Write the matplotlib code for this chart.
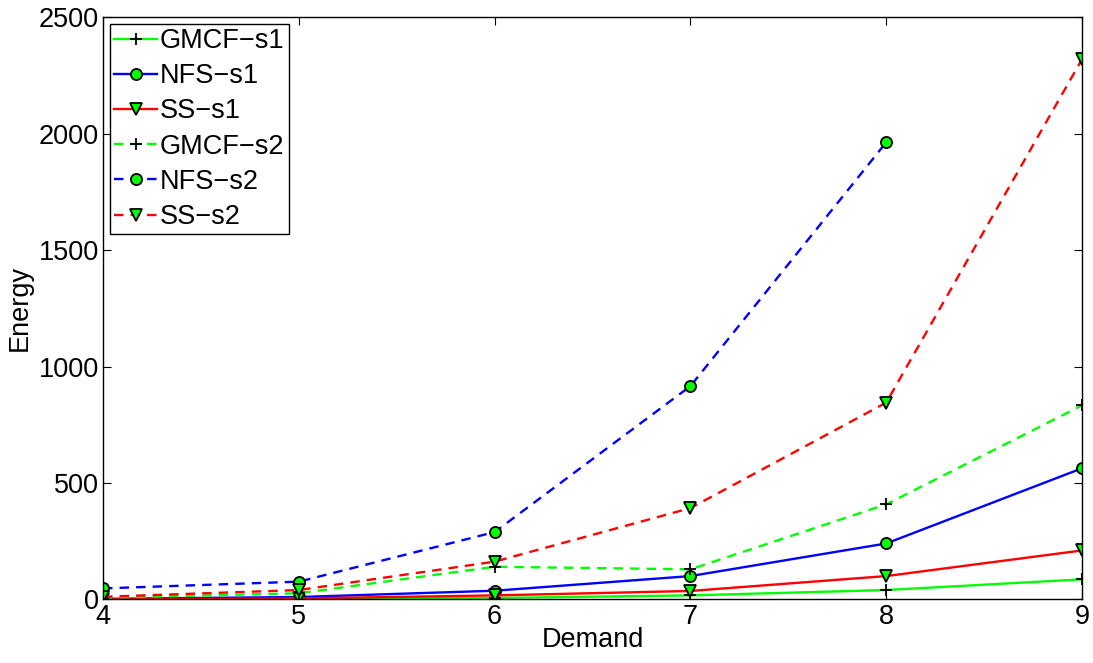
import matplotlib
matplotlib.use("Agg")
import matplotlib.pyplot as plt

plt.rcParams['font.family'] = ['Liberation Sans', 'DejaVu Sans']

demand = [4, 5, 6, 7, 8, 9]

# scenario 1
gmcf_s1 = [0, 2, 6, 17, 40, 86]
nfs_s1 = [2, 10, 37, 100, 240, 563]
ss_s1 = [0, 4, 17, 36, 100, 210]

# scenario 2 (NFS has no result at demand 9)
gmcf_s2 = [7, 26, 140, 129, 408, 833]
nfs_s2 = [47, 76, 289, 916, 1963]
ss_s2 = [11, 40, 162, 392, 845, 2320]

fig = plt.figure(figsize=(10.93, 6.63), dpi=100)
ax = fig.add_axes([0.0943, 0.096, 0.8957, 0.878])

lw = 1.7
ms = 8
dash = (0, (4, 3))
plus = dict(marker='+', markersize=9, markeredgecolor='black', markeredgewidth=1.3)
circ = dict(marker='o', markersize=ms, markerfacecolor='#00ff00', markeredgecolor='black', markeredgewidth=1.3)
tri = dict(marker='v', markersize=ms + 1, markerfacecolor='#00ff00', markeredgecolor='black', markeredgewidth=1.3)

ax.plot(demand, gmcf_s1, '-', color='#00ff00', lw=lw, label='GMCF\u2212s1', **plus)
ax.plot(demand, nfs_s1, '-', color='blue', lw=lw, label='NFS\u2212s1', **circ)
ax.plot(demand, ss_s1, '-', color='red', lw=lw, label='SS\u2212s1', **tri)
ax.plot(demand, gmcf_s2, linestyle=dash, color='#00ff00', lw=lw, label='GMCF\u2212s2', **plus)
ax.plot(demand[:len(nfs_s2)], nfs_s2, linestyle=dash, color='blue', lw=lw, label='NFS\u2212s2', **circ)
ax.plot(demand, ss_s2, linestyle=dash, color='red', lw=lw, label='SS\u2212s2', **tri)

ax.set_xlim(4, 9)
ax.set_ylim(0, 2500)
ax.set_xticks(demand)
ax.set_yticks(range(0, 2501, 500))
ax.tick_params(direction='in', top=True, right=True, labelsize=19.5, length=6, pad=3)
ax.set_xlabel('Demand', fontsize=19.5, labelpad=-2)
ax.set_ylabel('Energy', fontsize=19.5, labelpad=4)
for s in ax.spines.values():
    s.set_linewidth(1.0)

leg = ax.legend(loc='upper left', fontsize=19.5, handlelength=1.6, handletextpad=0.1,
                labelspacing=0.34, borderpad=0.15, borderaxespad=0.25, fancybox=False,
                framealpha=1, edgecolor='black')
leg.get_frame().set_linewidth(1.0)

fig.savefig('out.png', dpi=100)
